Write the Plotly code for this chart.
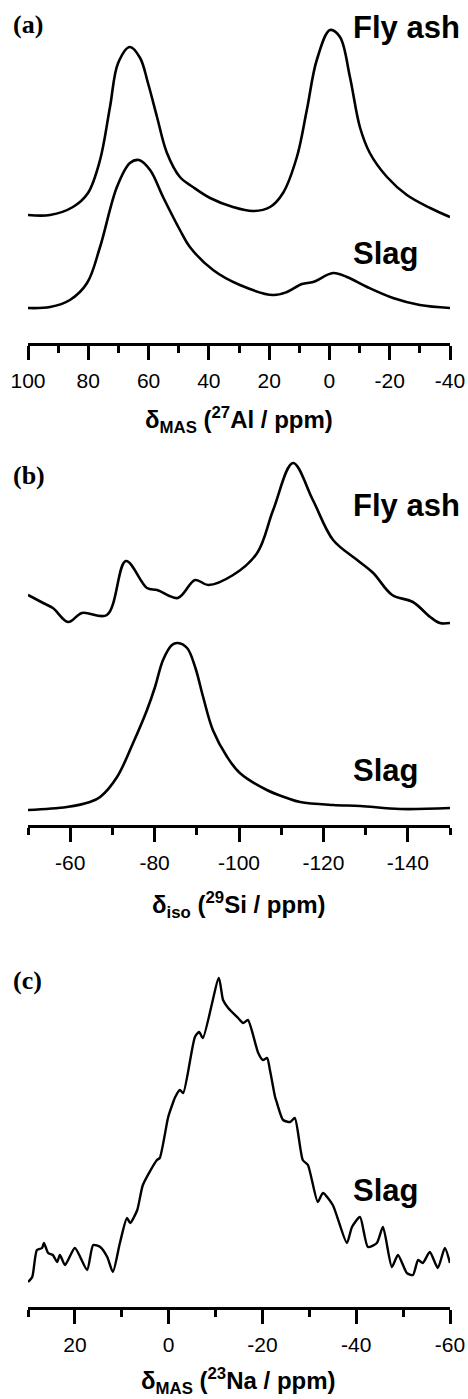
import plotly.graph_objects as go

# ---------------- data (intensities in arbitrary units) -------------
# (a) 27Al MAS NMR
al_ppm_flyash = [100, 92.7, 85.1, 80.1, 76.1, 72.8, 70.1, 66.2, 62.8, 60.2, 57.2, 53.9, 49.6, 45.3,
                 39.6, 32.0, 25.4, 19.7, 15.4, 10.8, 7.5, 4.2, -0.2, -3.5, -6.8, -10.1, -13.4,
                 -19.1, -25.7, -33.4, -40.0]
al_int_flyash = [128, 128, 136, 150, 183, 236, 280, 296, 285, 260, 226, 190, 166, 156, 145, 136,
                 132, 136, 150, 186, 233, 283, 313, 306, 266, 216, 190, 166, 148, 135, 126]
al_ppm_slag = [100, 92.7, 86.1, 80.4, 76.1, 70.5, 66.2, 63.2, 59.5, 55.2, 49.6, 46.3, 38.6, 29.7,
               18.7, 14.1, 9.1, 5.4, -1.2, -5.8, -12.5, -21.1, -30.0, -40.0]
al_int_slag = [35, 36, 43, 60, 96, 156, 180, 183, 173, 146, 113, 96, 73, 58, 48, 51, 59, 61, 70,
               66, 56, 45, 38, 35]
al_tickvals = [100, 80, 60, 40, 20, 0, -20, -40]
al_ticktext = ["100", "80", "60", "40", "20", "0", "-20", "-40"]

# (b) 29Si MAS NMR
si_ppm_flyash = [-50, -53.6, -55.9, -59.5, -62.8, -68.7, -73.2, -78.2, -80.6, -85.5, -89.6, -92.7,
                 -98.6, -104.3, -108.1, -112.8, -117.5, -122.3, -128, -131.8, -136.3, -141.2,
                 -145.3, -147.6, -150]
si_int_flyash = [230, 222, 217, 203, 212, 210, 264, 237, 235, 227, 245, 240, 250, 272, 315, 362,
                 325, 285, 265, 252, 230, 223, 208, 202, 202]
si_ppm_slag = [-50, -59.2, -64.7, -67.1, -71.1, -74.9, -78.2, -80.1, -82.0, -84.1, -85.5, -87.7,
               -89.6, -91.5, -93.8, -97.2, -100.2, -106.6, -111.4, -114.5, -122.3, -128.7,
               -138.2, -150]
si_int_slag = [15, 18, 23, 28, 48, 82, 115, 138, 165, 180, 182, 177, 158, 128, 95, 68, 52, 35, 27,
               23, 20, 19, 16, 17]
si_tickvals = [-60, -80, -100, -120, -140]
si_ticktext = ["-60", "-80", "-100", "-120", "-140"]

# (c) 23Na MAS NMR
na_ppm_slag = [30.0, 29.1, 28.1, 27.0, 26.6, 25.7, 24.7, 23.8, 23.2, 22.1, 20.0, 17.4, 16.1, 14.6,
               13.1, 11.9, 10.4, 8.9, 8.2, 6.7, 5.5, 2.5, 1.9, 0.1, -0.9, -1.4, -2.4, -3.1, -5.6,
               -6.5, -7.3, -10.7, -11.6, -12.7, -14.8, -15.9, -16.9, -19.1, -20.1, -21.0, -21.6,
               -22.7, -23.1, -24.4, -25.9, -26.9, -28.6, -29.7, -31.8, -32.9, -35.0, -38.0, -39.1,
               -40.8, -42.5, -44.4, -45.7, -47.6, -48.9, -50.8, -52.1, -53.2, -54.2, -55.7, -57.4,
               -58.9, -60.0]
na_int_slag = [25, 30, 57, 59, 64, 54, 52, 45, 52, 42, 59, 37, 62, 60, 50, 35, 64, 89, 84, 97, 122,
               147, 149, 190, 204, 210, 217, 214, 270, 275, 269, 329, 307, 299, 289, 284, 287, 254,
               247, 249, 237, 210, 204, 187, 185, 189, 147, 142, 105, 114, 102, 64, 80, 90, 60, 64,
               80, 40, 52, 34, 32, 47, 44, 55, 39, 59, 44]
na_tickvals = [20, 0, -20, -40, -60]
na_ticktext = ["20", "0", "-20", "-40", "-60"]

panel_labels = ["(a)", "(b)", "(c)"]
sample_labels = ["Fly ash", "Slag", "Fly ash", "Slag", "Slag"]
axis_titles = ["<b>δ<sub>MAS</sub> (<sup>27</sup>Al / ppm)</b>",
               "<b>δ<sub>iso</sub> (<sup>29</sup>Si / ppm)</b>",
               "<b>δ<sub>MAS</sub> (<sup>23</sup>Na / ppm)</b>"]

# ---------------- layout helpers ----------------
W, H = 468, 1399
def py(px):
    return 1 - px / H
def pxx(px):
    return px / W

line = dict(color="black", width=2.6, shape="spline", smoothing=1.0)

fig = go.Figure()
fig.add_trace(go.Scatter(x=al_ppm_flyash, y=al_int_flyash, mode="lines", line=line, xaxis="x", yaxis="y"))
fig.add_trace(go.Scatter(x=al_ppm_slag, y=al_int_slag, mode="lines", line=line, xaxis="x", yaxis="y"))
fig.add_trace(go.Scatter(x=si_ppm_flyash, y=si_int_flyash, mode="lines", line=line, xaxis="x2", yaxis="y2"))
fig.add_trace(go.Scatter(x=si_ppm_slag, y=si_int_slag, mode="lines", line=line, xaxis="x2", yaxis="y2"))
fig.add_trace(go.Scatter(x=na_ppm_slag, y=na_int_slag, mode="lines",
                         line=dict(color="black", width=2.4, shape="spline", smoothing=0.6),
                         xaxis="x3", yaxis="y3"))

tickfont = dict(family="Liberation Sans, Arial", size=21, color="black")
xdom = [pxx(28), pxx(450)]

def xaxis(rng, tickvals, ticktext, anchor):
    return dict(domain=xdom, range=rng, anchor=anchor, showline=True, linecolor="black",
                linewidth=2.5, ticks="outside", ticklen=14, tickwidth=2.5, tickcolor="black",
                tickvals=tickvals, ticktext=ticktext, tickfont=tickfont, showgrid=False,
                zeroline=False, automargin=False, ticklabelstandoff=3,
                minor=dict(dtick=10, tick0=0, ticks="outside", ticklen=7, tickwidth=2.5,
                           tickcolor="black", showgrid=False))

def yaxis(bottom_px, top_px, anchor):
    return dict(domain=[py(bottom_px), py(top_px)], range=[0, bottom_px - top_px], anchor=anchor,
                visible=False, showgrid=False, zeroline=False, automargin=False)

fig.update_layout(
    template="none",
    width=W, height=H, margin=dict(l=0, r=0, t=0, b=0, autoexpand=False),
    plot_bgcolor="white", paper_bgcolor="white", showlegend=False,
    xaxis=xaxis([100, -40], al_tickvals, al_ticktext, "y"),
    yaxis=yaxis(343, 0, "x"),
    xaxis2=xaxis([-50, -150], si_tickvals, si_ticktext, "y2"),
    yaxis2=yaxis(825, 445, "x2"),
    xaxis3=xaxis([30, -60], na_tickvals, na_ticktext, "y3"),
    yaxis3=yaxis(1307, 900, "x3"),
)

ann = []
bold_sans = dict(family="Liberation Sans, Arial", size=31, color="black")
serif = dict(family="Liberation Serif, Times New Roman", size=26, color="black")
title_font = dict(family="Liberation Sans, Arial", size=24, color="black")

for lab, ypx in zip(panel_labels, [25, 475, 980]):
    ann.append(dict(text="<b>" + lab + "</b>", x=pxx(11), y=py(ypx), xref="paper", yref="paper",
                    xanchor="left", yanchor="middle", showarrow=False, font=serif))
for txt, ypx in zip(sample_labels, [27, 254, 505, 770, 1190]):
    ann.append(dict(text="<b>" + txt + "</b>", x=pxx(351), y=py(ypx), xref="paper", yref="paper",
                    xanchor="left", yanchor="middle", showarrow=False, font=bold_sans))
for t, ypx in zip(axis_titles, [420, 905, 1381]):
    ann.append(dict(text=t, x=pxx(239), y=py(ypx), xref="paper", yref="paper",
                    xanchor="center", yanchor="middle", showarrow=False, font=title_font))
fig.update_layout(annotations=ann)

fig.write_html("out.html")
